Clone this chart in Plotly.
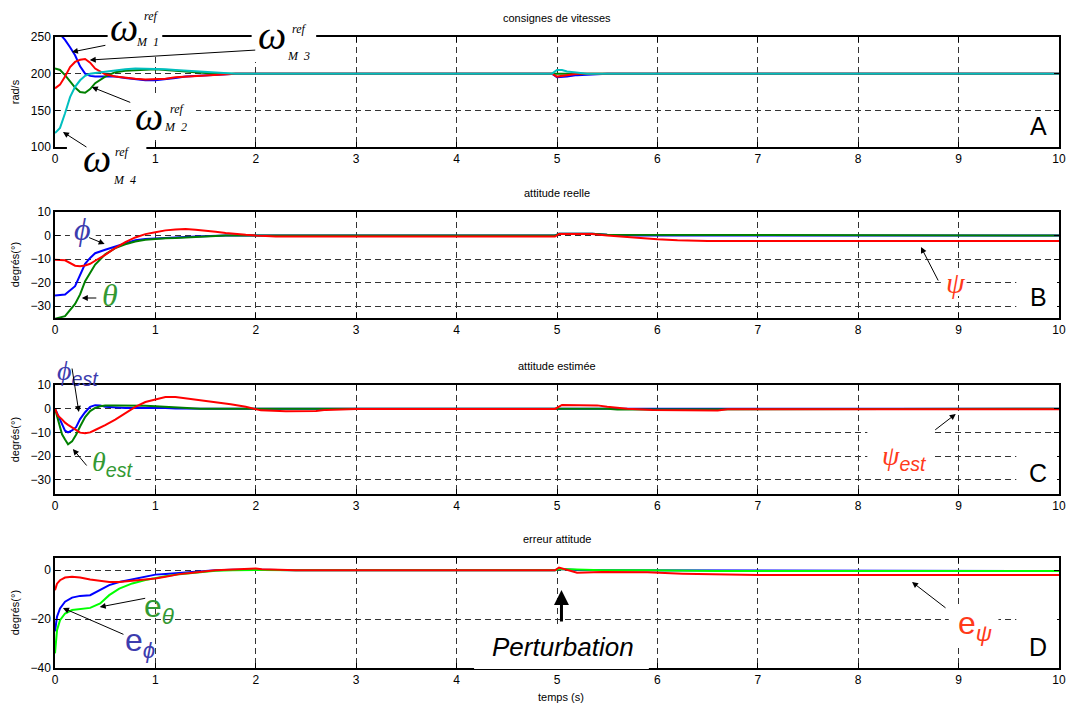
import plotly.graph_objects as go

# ---------------- data ----------------
t_a = [0, 0.05, 0.1, 0.15, 0.2, 0.25, 0.3, 0.35, 0.4, 0.5, 0.6, 0.7, 0.8, 0.9, 1.0, 1.1, 1.2, 1.3,
       1.4, 1.5, 1.6, 1.8, 2.0, 3.0, 4.0, 4.95, 5.0, 5.05, 5.1, 5.2, 5.3, 5.5, 6.0, 7.0, 8.0, 9.0, 10.0]
w_m1 = [262, 254, 246, 236, 225, 210, 200, 197, 196, 196, 196, 194, 192, 191, 191, 192, 194, 196,
        197, 198, 199, 200, 200, 200, 200, 200, 195, 195, 196, 198, 199, 200, 200, 200, 200, 200, 200]
w_m2 = [207, 205, 198, 189, 181, 175, 174, 179, 187, 196, 202, 204, 205, 206, 206, 205, 204, 203,
        202, 201, 200, 200, 200, 200, 200, 200, 200, 201, 200, 200, 200, 200, 200, 200, 200, 200, 200]
w_m3 = [180, 185, 196, 209, 216, 219, 220, 215, 207, 199, 196, 194, 193, 192, 192, 193, 195, 196,
        197, 198, 199, 200, 200, 200, 200, 200, 196, 197, 199, 200, 200, 200, 200, 200, 200, 200, 200]
w_m4 = [119, 126, 146, 168, 182, 191, 197, 200, 201, 203, 205, 206, 207, 207, 207, 206, 205, 204,
        203, 202, 201, 200, 200, 200, 200, 200, 205, 205, 203, 201, 200, 200, 200, 200, 200, 200, 200]

t_b = [0, 0.1, 0.2, 0.25, 0.3, 0.35, 0.4, 0.5, 0.6, 0.7, 0.8, 0.9, 1.0, 1.1, 1.2, 1.3, 1.4, 1.5,
       1.6, 1.7, 1.8, 1.9, 2.0, 2.2, 3.0, 4.0, 4.98, 5.02, 5.35, 5.5, 5.65, 5.8, 6.0, 6.2, 6.5,
       7.0, 8.0, 10.0]
phi = [-25.5, -25, -21.5, -17, -12, -9.5, -7.5, -6, -4.6, -3.2, -2, -1.5, -1.2, -1, -0.8, -0.6,
       -0.4, -0.2, 0, 0, 0, 0, 0, 0, 0, 0, 0, 0.8, 0.8, 0.3, 0, 0, 0, 0, 0, 0, 0, 0]
theta = [-35.3, -34.2, -29, -25, -19.4, -16, -12.3, -8, -5.3, -3.7, -2.5, -1.8, -1.3, -1.1, -1,
         -0.8, -0.5, -0.3, 0, 0, 0, 0, 0, 0, 0, 0, 0, 0.8, 0.8, 0.3, 0.3, 0.3, 0.2, 0, 0, 0, 0, 0]
psi = [-10.3, -10.5, -12.8, -13, -12.7, -12, -10.7, -8.2, -5.3, -2.8, -0.8, 0.6, 1.4, 2.2, 2.6,
       2.8, 2.5, 2.2, 1.6, 1.1, 0.6, 0.3, 0, -0.4, -0.4, -0.4, -0.4, 0.7, 0.7, 0, -0.5, -1.2,
       -1.6, -2.0, -2.3, -2.3, -2.3, -2.3]

t_c = [0, 0.03, 0.07, 0.1, 0.13, 0.17, 0.21, 0.25, 0.3, 0.35, 0.4, 0.45, 0.5, 0.6, 0.7, 0.8, 0.9,
       1.0, 1.1, 1.2, 1.3, 1.45, 1.6, 1.75, 1.9, 2.05, 2.3, 2.6, 2.7, 3.0, 4.0, 4.98, 5.05, 5.4,
       5.5, 5.6, 5.7, 5.95, 6.6, 6.7, 8.0, 10.0]
phi_est = [0, -3, -7, -9.3, -10, -9.2, -7.8, -4.4, -1.5, 0.8, 1.5, 1.4, 0.8, 0.4, 0.3, 0.3, 0.4,
           0.4, 0.3, 0.1, 0, 0, 0, 0, 0, 0, 0, 0, 0, 0, 0, 0, 0.2, 0.1, 0, 0, 0, 0, 0, 0, 0, 0]
theta_est = [0, -5, -10.8, -13, -15, -13.8, -11, -7.5, -3.5, -1, 0.3, 1, 1.3, 1.4, 1.4, 1.4, 1.2,
             1, 0.8, 0.5, 0.2, 0, 0, 0, 0, 0, 0, 0, 0, 0, 0, 0, 0.3, 0.3, 0, -0.3, -0.3, -0.3,
             -0.3, 0, 0, 0]
psi_est = [0, -3, -4.5, -5.9, -6.8, -8, -9.2, -10.1, -10.4, -10, -9, -8, -6.9, -4.6, -2, 0.8, 2.8,
           3.9, 4.9, 4.9, 4.4, 3.7, 2.8, 1.9, 0.8, -0.7, -1.1, -1, -0.5, -0.1, -0.1, -0.1, 1.6,
           1.4, 0.8, 0.4, 0, -0.6, -0.8, -0.2, -0.2, -0.2]

t_d = [0, 0.02, 0.05, 0.1, 0.17, 0.25, 0.35, 0.45, 0.54, 0.64, 0.77, 0.9, 1.0, 1.1, 1.24, 1.35,
       1.44, 1.6, 1.77, 1.9, 2.0, 2.06, 2.4, 3.0, 4.0, 4.98, 5.02, 5.08, 5.15, 5.2, 5.45, 5.9,
       6.25, 6.6, 7.0, 8.0, 10.0]
e_phi = [-25, -19, -15.6, -12.9, -11.2, -10.5, -10.2, -8.2, -6.1, -4.8, -3.8, -2.6, -1.8, -1.5,
         -1.1, -0.6, -0.3, 0, 0.2, 0.3, 0.3, 0.2, 0, 0, 0, 0, 0.5, 0.3, 0.2, 0.1, 0, 0, -0.1,
         -0.2, -0.3, -0.3, -0.3]
e_theta = [-34, -24.5, -20.4, -17.7, -16.3, -16, -15.4, -13.6, -10.2, -7.5, -5.4, -4, -3.1, -2.5,
           -1.6, -1.1, -0.7, -0.2, 0, 0.1, 0.1, 0.1, 0, 0, 0, 0, 0.5, 0.4, 0.4, 0.4, 0, 0, -0.2,
           -0.3, -0.3, -0.3, -0.3]
e_psi = [-8.2, -5.5, -4.1, -3, -2.7, -3, -3.8, -4.4, -4.8, -4.8, -4.4, -3.9, -3.4, -2.7, -1.6,
         -1.1, -0.7, 0, 0.3, 0.6, 0.7, 0.4, 0, 0, 0, 0, 1.1, 0.5, -0.5, -1.0, -0.7, -0.8, -1.4,
         -1.8, -2, -2, -2]

x_ticks = list(range(11))
titles = ["consignes de vitesses", "attitude reelle", "attitude estimée", "erreur attitude"]
panel_letters = ["A", "B", "C", "D"]

# ---------------- layout helpers ----------------
W, H = 1075, 704
L, R, T, B = 55, 1066, 37, 668


def fx(p):
    return (p - L) / (R - L)


def fy(p):
    return (B - p) / (B - T)


SANS = "Liberation Sans, Arial, sans-serif"
SERIF = "Liberation Serif, Times New Roman, serif"
BLUE, RED, GREEN, CYAN, LGREEN = "#0000ff", "#ff0000", "#008000", "#00bfbf", "#00ff00"
LBL_BLUE, LBL_GREEN, LBL_RED = "#3c3cae", "#339933", "#ff3a1a"

fig = go.Figure()


def add(x, y, color, ax):
    fig.add_trace(go.Scatter(x=x, y=y, mode="lines", line=dict(color=color, width=2),
                             xaxis="x" + ax, yaxis="y" + ax, showlegend=False,
                             hoverinfo="skip"))


add(t_a, w_m1, BLUE, "")
add(t_a, w_m2, GREEN, "")
add(t_a, w_m3, RED, "")
add(t_a, w_m4, CYAN, "")
add(t_b, phi, BLUE, "2")
add(t_b, theta, GREEN, "2")
add(t_b, psi, RED, "2")
add(t_c, phi_est, BLUE, "3")
add(t_c, theta_est, GREEN, "3")
add(t_c, psi_est, RED, "3")
add(t_d, e_phi, BLUE, "4")
add(t_d, e_theta, LGREEN, "4")
add(t_d, e_psi, RED, "4")

axis_common = dict(showline=True, linecolor="black", linewidth=1.5, mirror="ticks",
                   ticks="inside", ticklen=5, tickcolor="black", tickwidth=1,
                   showgrid=True, gridcolor="#333333", griddash="6px,4px", gridwidth=1,
                   zeroline=False, tickfont=dict(family=SANS, size=12, color="black"))

panels = [  # (top px, bottom px, y range, y ticks)
    (37, 147, [100, 250], [100, 150, 200, 250]),
    (212, 318, [-35, 10], [-30, -20, -10, 0, 10]),
    (385, 494, [-36, 10], [-30, -20, -10, 0, 10]),
    (558, 668, [-40, 5], [-40, -20, 0]),
]

layout = dict(width=W, height=H, margin=dict(l=L, r=W - R, t=T, b=H - B),
              paper_bgcolor="white", plot_bgcolor="white",
              font=dict(family=SANS, color="black"))
for i, (top, bot, yr, yt) in enumerate(panels):
    sfx = "" if i == 0 else str(i + 1)
    layout["xaxis" + sfx] = dict(axis_common, range=[0, 10], tickvals=x_ticks,
                                 anchor="y" + sfx, domain=[0, 1])
    layout["yaxis" + sfx] = dict(axis_common, range=yr, tickvals=yt, anchor="x" + sfx,
                                 domain=[fy(bot), fy(top)])
fig.update_layout(**layout)

ann = []
shapes = []


def text(x, y, s, size, family=SANS, color="black", angle=0):
    ann.append(dict(x=fx(x), y=fy(y), xref="paper", yref="paper", text=s, showarrow=False,
                    font=dict(family=family, size=size, color=color), textangle=angle,
                    xanchor="center", yanchor="middle"))


def arrow(hx, hy, tx, ty, width=1, size=1.2):
    ann.append(dict(x=fx(hx), y=fy(hy), xref="paper", yref="paper", text="", showarrow=True,
                    ax=tx - hx, ay=ty - hy, arrowhead=2, arrowsize=size, arrowwidth=width,
                    arrowcolor="black", standoff=0))


def box(x0, y0, x1, y1):
    shapes.append(dict(type="rect", xref="paper", yref="paper", x0=fx(x0), x1=fx(x1),
                       y0=fy(y1), y1=fy(y0), fillcolor="white", line=dict(width=0),
                       layer="above"))


# panel titles
for (top, bot, _, _), ttl in zip(panels, titles):
    text(560, top - 19, ttl, 11)
text(565, 697, "temps (s)", 11)

# y axis titles
text(15, 92, "rad/s", 11, angle=-90)
text(15, 265, "degrés(°)", 11, angle=-90)
text(15, 440, "degrés(°)", 11, angle=-90)
text(15, 613, "degrés(°)", 11, angle=-90)

# white boxes behind labels
box(108, 5, 163, 57)      # w M1
box(253, 5, 318, 62)      # w M3
box(133, 95, 197, 140)    # w M2
box(67, 140, 147, 192)    # w M4
box(1023, 113, 1064, 146)  # A
box(1023, 262, 1064, 317)  # B
box(1023, 436, 1064, 493)  # C
box(1023, 600, 1064, 667)  # D
box(70, 218, 96, 248)     # phi
box(947, 268, 973, 296)   # psi
box(95, 452, 136, 480)    # theta est
box(873, 425, 940, 475)   # psi est
box(955, 605, 1005, 648)  # e psi
box(477, 628, 653, 669)   # Perturbation

# panel letters
for (top, bot, _, _), letter in zip(panels, panel_letters):
    text(1045, bot - 21, letter, 25)

# omega labels
omegas = [  # (w x, w y, ref x, ref y, sub x, sub y, sub)
    (124, 28, 152, 16, 148, 42, "M\u00a0\u00a01"),
    (274, 35, 301, 29, 300, 56, "M\u00a0\u00a03"),
    (150, 116, 178, 109, 176, 127, "M\u00a0\u00a02"),
    (97, 159, 123, 152, 125, 180, "M\u00a0\u00a04"),
]
for wx, wy, rx, ry, sx, sy, sub in omegas:
    text(wx, wy, "<i>ω</i>", 40, family=SERIF)
    text(rx, ry, "<i>ref</i>", 12, family=SERIF)
    text(sx, sy, "<i>" + sub + "</i>", 12, family=SERIF)
arrow(72, 52, 107, 45)
arrow(90, 60, 257, 50)
arrow(92, 87, 132, 103)
arrow(63, 132, 88, 148)

# panel B labels
text(83, 229, "<i>ϕ</i>", 32, family=SERIF, color=LBL_BLUE)
arrow(105, 244, 88, 237)
text(110, 295, "<i>θ</i>", 32, family=SERIF, color=LBL_GREEN)
arrow(82, 298, 98, 298)
text(962, 282, "<i>ψ</i>", 30, family=SERIF, color=LBL_RED)
arrow(927, 247, 945, 282)

# panel C labels
text(78, 372, "<span style='font-family:Liberation Serif'><i>ϕ</i></span><sub><i>est</i></sub>",
     28, color=LBL_BLUE)
arrow(79, 412, 72, 367)
text(113, 463, "<span style='font-family:Liberation Serif'><i>θ</i></span><sub><i>est</i></sub>",
     28, color=LBL_GREEN)
arrow(73, 449, 88, 467)
text(910, 457, "<span style='font-family:Liberation Serif'><i>ψ</i></span><sub><i>est</i></sub>",
     28, color=LBL_RED)
arrow(962, 414, 940, 431)

# panel D labels
text(160, 608, "e<sub><i>θ</i></sub>", 32, color=LBL_GREEN)
arrow(100, 607, 147, 598)
text(141, 642, "e<sub><i>ϕ</i></sub>", 32, color=LBL_BLUE)
arrow(63, 608, 125, 635)
text(981, 625, "e<sub><i>ψ</i></sub>", 32, color=LBL_RED)
arrow(918, 582, 953, 609)
text(567, 647, "<i>Perturbation</i>", 26)
arrow(565, 590, 565, 623, width=3, size=1)

fig.update_layout(annotations=ann, shapes=shapes)
fig.write_html("out.html")
